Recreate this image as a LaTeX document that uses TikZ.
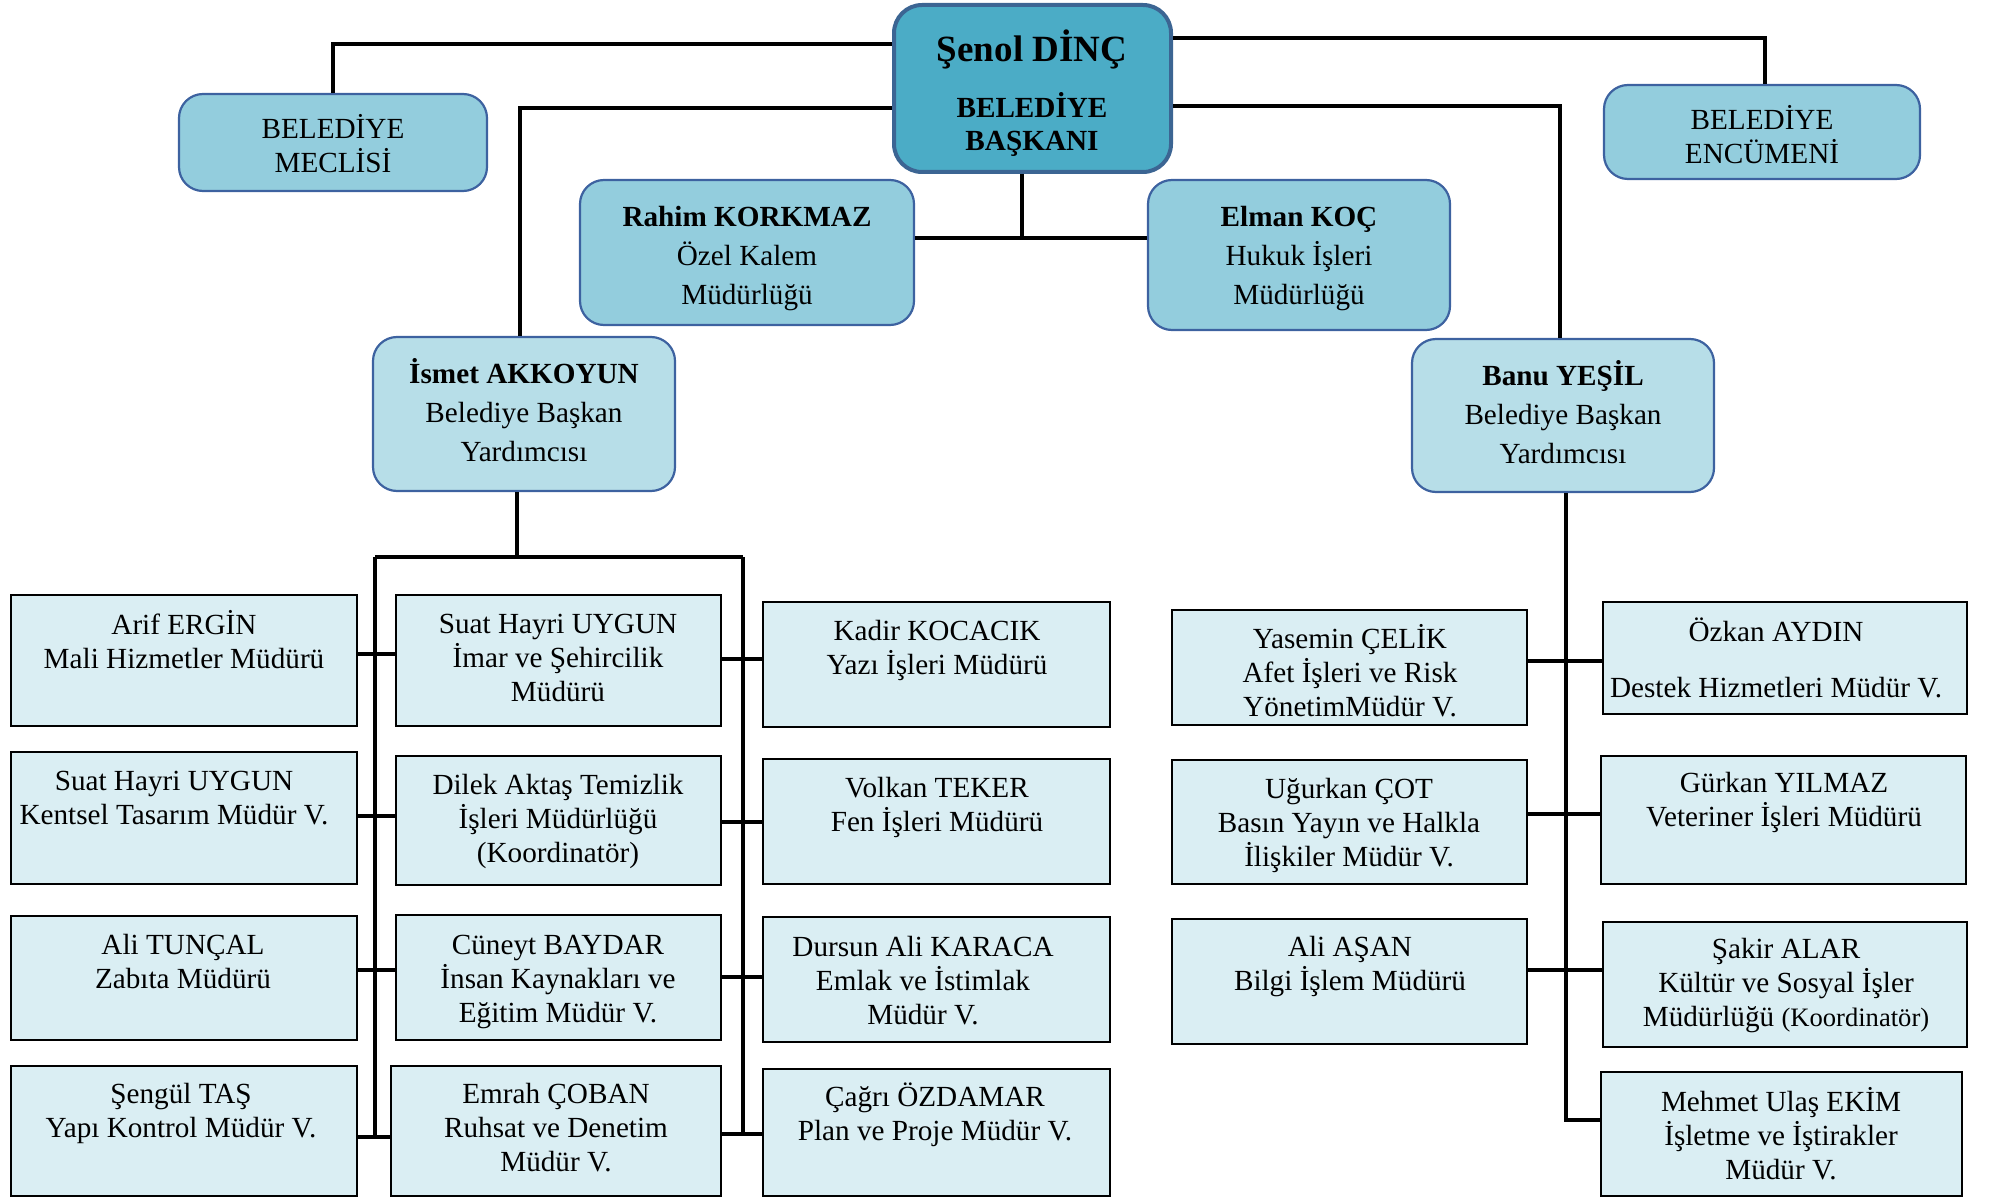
\documentclass[tikz,border=0pt]{standalone}
\usepackage{fontspec}
\setmainfont{Liberation Serif}
\usetikzlibrary{fit,calc}
\definecolor{mayorfill}{HTML}{4BACC6}
\definecolor{mayorline}{HTML}{3C6593}
\definecolor{upfill}{HTML}{93CDDD}
\definecolor{vicefill}{HTML}{B7DEE8}
\definecolor{upline}{HTML}{3D62A0}
\definecolor{lowfill}{HTML}{DAEEF3}
\begin{document}
\begin{tikzpicture}[x=0.5pt,y=-0.5pt,
 mayorbox/.style={draw=mayorline, line width=2pt, fill=mayorfill, rounded corners=14pt, inner sep=0pt},
 upbox/.style={draw=upline, line width=1.1pt, fill=upfill, rounded corners=12pt, inner sep=0pt},
 vicebox/.style={upbox, fill=vicefill},
 lowbox/.style={draw=black, line width=0.8pt, fill=lowfill, inner sep=0pt},
 btxt/.style={font=\fontsize{14.6}{17}\selectfont, align=center, inner sep=0pt, anchor=north, execute at begin node={\rule{0pt}{13.9pt}}},
 utxt/.style={btxt, font=\fontsize{14.6}{19.5}\selectfont},
 conn/.style={line width=2.4pt, draw=black},
]
\useasboundingbox (0,0) rectangle (1995,1198);

% ---------- upper boxes ----------
\node[mayorbox, fit={(894,5) (1171,172)}] (mayor) {};
\node[upbox, fit={(179,94) (487,191)}] (meclis) {};
\node[upbox, fit={(1604,85) (1920,179)}] (encumen) {};
\node[upbox, fit={(580,180) (914,325)}] (rahim) {};
\node[upbox, fit={(1148,180) (1450,330)}] (elman) {};
\node[vicebox, fit={(373,337) (675,491)}] (ismet) {};
\node[vicebox, fit={(1412,339) (1714,492)}] (banu) {};

% ---------- lower boxes, left group ----------
\node[lowbox, fit={(11,595) (357,726)}] (arif) {};
\node[lowbox, fit={(11,752) (357,884)}] (suat2) {};
\node[lowbox, fit={(11,916) (357,1040)}] (ali1) {};
\node[lowbox, fit={(11,1066) (357,1196)}] (sengul) {};
\node[lowbox, fit={(396,595) (721,726)}] (suat1) {};
\node[lowbox, fit={(396,756) (721,885)}] (dilek) {};
\node[lowbox, fit={(396,915) (721,1040)}] (cuneyt) {};
\node[lowbox, fit={(391,1066) (721,1196)}] (emrah) {};
\node[lowbox, fit={(763,602) (1110,727)}] (kadir) {};
\node[lowbox, fit={(763,759) (1110,884)}] (volkan) {};
\node[lowbox, fit={(763,917) (1110,1042)}] (dursun) {};
\node[lowbox, fit={(763,1069) (1110,1196)}] (cagri) {};

% ---------- lower boxes, right group ----------
\node[lowbox, fit={(1172,610) (1527,725)}] (yasemin) {};
\node[lowbox, fit={(1172,760) (1527,884)}] (ugurkan) {};
\node[lowbox, fit={(1172,919) (1527,1044)}] (aliasan) {};
\node[lowbox, fit={(1603,602) (1967,714)}] (ozkan) {};
\node[lowbox, fit={(1601,756) (1966,884)}] (gurkan) {};
\node[lowbox, fit={(1603,922) (1967,1047)}] (sakir) {};
\node[lowbox, fit={(1601,1072) (1962,1196)}] (mehmet) {};

% ---------- texts ----------
\node[anchor=base, inner sep=0pt, font=\fontsize{18.5}{22}\selectfont\bfseries] (mayor-n) at (1032,61.5) {Şenol DİNÇ};
\node[btxt, font=\fontsize{14.6}{16.5}\selectfont\bfseries] (mayor-t) at (1032,92) {BELEDİYE\\BAŞKANI};
\node[btxt] (meclis-t) at (333,114) {BELEDİYE\\MECLİSİ};
\node[btxt] (encumen-t) at (1762,105.5) {BELEDİYE\\ENCÜMENİ};
\node[utxt] (rahim-t) at (747,205.5) {\textbf{Rahim KORKMAZ}\\Özel Kalem\\Müdürlüğü};
\node[utxt] (elman-t) at (1299,205.5) {\textbf{Elman KOÇ}\\Hukuk İşleri\\Müdürlüğü};
\node[utxt] (ismet-t) at (524,358) {\textbf{İsmet AKKOYUN}\\Belediye Başkan\\Yardımcısı};
\node[utxt] (banu-t) at (1563,360.5) {\textbf{Banu YEŞİL}\\Belediye Başkan\\Yardımcısı};

\node[btxt] (arif-t) at (184,610) {Arif ERGİN\\Mali Hizmetler Müdürü};
\node[btxt] (suat1-t) at (558,613.5) {Suat Hayri UYGUN\\İmar ve Şehircilik\\Müdürü};
\node[btxt] (kadir-t) at (937,619.5) {Kadir KOCACIK\\Yazı İşleri Müdürü};
\node[btxt] (suat2-t) at (174,771) {Suat Hayri UYGUN\\Kentsel Tasarım Müdür V.};
\node[btxt] (dilek-t) at (558,773.5) {Dilek Aktaş Temizlik\\İşleri Müdürlüğü\\(Koordinatör)};
\node[btxt] (volkan-t) at (937,777) {Volkan TEKER\\Fen İşleri Müdürü};
\node[btxt] (ali1-t) at (183,934) {Ali TUNÇAL\\Zabıta Müdürü};
\node[btxt] (cuneyt-t) at (558,934.5) {Cüneyt BAYDAR\\İnsan Kaynakları ve\\Eğitim Müdür V.};
\node[btxt] (dursun-t) at (923,935.5) {Dursun Ali KARACA\\Emlak ve İstimlak\\Müdür V.};
\node[btxt] (sengul-t) at (181,1083) {Şengül TAŞ\\Yapı Kontrol Müdür V.};
\node[btxt] (emrah-t) at (556,1083) {Emrah ÇOBAN\\Ruhsat ve Denetim\\Müdür V.};
\node[btxt] (cagri-t) at (935,1082) {Çağrı ÖZDAMAR\\Plan ve Proje Müdür V.};

\node[btxt] (yasemin-t) at (1350,624) {Yasemin ÇELİK\\Afet İşleri ve Risk\\YönetimMüdür V.};
\node[btxt] (ugurkan-t) at (1349,777.5) {Uğurkan ÇOT\\Basın Yayın ve Halkla\\İlişkiler Müdür V.};
\node[btxt] (aliasan-t) at (1350,936) {Ali AŞAN\\Bilgi İşlem Müdürü};
\node[btxt] (ozkan-t) at (1776,617.5) {Özkan AYDIN\\[10.9pt]Destek Hizmetleri Müdür V.};
\node[btxt] (gurkan-t) at (1784,772) {Gürkan YILMAZ\\Veteriner İşleri Müdürü};
\node[btxt] (sakir-t) at (1786,938) {Şakir ALAR\\Kültür ve Sosyal İşler\\Müdürlüğü {\fontsize{13.3}{17}\selectfont(Koordinatör)}};
\node[btxt] (mehmet-t) at (1781,1086.5) {Mehmet Ulaş EKİM\\İşletme ve İştirakler\\Müdür V.};

% ---------- connectors: top ----------
\draw[conn] (mayor.west |- 0,44) -| (meclis.north);
\draw[conn] (mayor.west |- 0,108) -| ($(ismet.north)+(-4,0)$);
\draw[conn] (mayor.east |- 0,38) -| ($(encumen.north)+(3,0)$);
\draw[conn] (mayor.east |- 0,106) -| ($(banu.north)+(-3,0)$);
\coordinate (j) at (1022,238);
\draw[conn] (j |- mayor.south) -- (j);
\draw[conn] (rahim.east |- j) -- (elman.west |- j);

% ---------- connectors: left group ----------
\coordinate (ls) at (517,557);
\coordinate (busL) at (375,557);
\coordinate (busR) at (743,557);
\draw[conn] (ls |- ismet.south) -- (ls);
\draw[conn] (busL) -- (busR);
\draw[conn] (busL) -- (375,1137);
\draw[conn] (busR) -- (743,1134);
\draw[conn] (arif.east |- 0,654) -- (suat1.west |- 0,654);
\draw[conn] (suat2.east |- 0,816) -- (dilek.west |- 0,816);
\draw[conn] (ali1.east |- 0,970) -- (cuneyt.west |- 0,970);
\draw[conn] (sengul.east |- 0,1137) -- (emrah.west |- 0,1137);
\draw[conn] (suat1.east |- 0,659) -- (kadir.west |- 0,659);
\draw[conn] (dilek.east |- 0,822) -- (volkan.west |- 0,822);
\draw[conn] (cuneyt.east |- 0,977) -- (dursun.west |- 0,977);
\draw[conn] (emrah.east |- 0,1134) -- (cagri.west |- 0,1134);

% ---------- connectors: right group ----------
\coordinate (rs) at (1566,1120);
\draw[conn] (rs |- banu.south) -- (rs) -- (mehmet.west |- rs);
\draw[conn] (yasemin.east |- 0,661) -- (ozkan.west |- 0,661);
\draw[conn] (ugurkan.east |- 0,814) -- (gurkan.west |- 0,814);
\draw[conn] (aliasan.east |- 0,970) -- (sakir.west |- 0,970);
\end{tikzpicture}
\end{document}
